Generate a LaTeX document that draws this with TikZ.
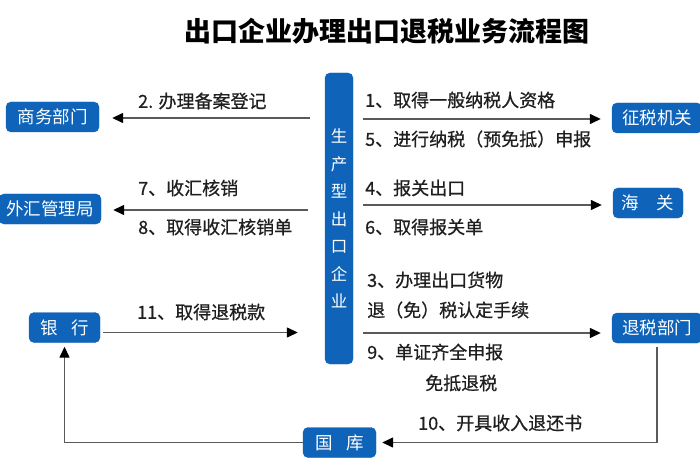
\documentclass[tikz,border=0pt]{standalone}
\usepackage{fontspec}
\setmainfont{Noto Sans CJK SC}
\newfontfamily\lblfont{Noto Sans CJK SC}[FakeBold=0.7]
\usetikzlibrary{arrows.meta}
\definecolor{boxblue}{HTML}{0F63B8}
\definecolor{linegray}{HTML}{5A5A5A}
\begin{document}
\begin{tikzpicture}[x=1pt,y=-1pt,
  dept/.style={fill=boxblue,draw=boxblue,rounded corners=5pt,text=white,
    font=\fontsize{17.5}{18}\selectfont,inner sep=0pt,minimum height=30pt,anchor=center},
  lbl/.style={anchor=west,inner sep=0pt,font=\lblfont\fontsize{18}{19}\selectfont,text=black!88},
  conn/.style={draw=linegray,line width=1.4pt,-{Triangle[length=11pt,width=10pt,color=black]}},
  plain/.style={draw=linegray,line width=1.4pt}]
\useasboundingbox (0,0) rectangle (700,470);
\node[font=\fontsize{27}{30}\selectfont\bfseries] (title) at (387,31) {出口企业办理出口退税业务流程图};
\node[fill=boxblue,draw=boxblue,rounded corners=5pt,minimum width=28pt,minimum height=291pt,
  inner sep=0pt,text=white,align=center,font=\fontsize{16.5}{27.5}\selectfont] (c) at (339,218.5)
  {生\\产\\型\\出\\口\\企\\业};
\node[dept,minimum width=93pt] (sw) at (52.5,117) {商务部门};
\node[dept,minimum width=102pt] (wh) at (50,209) {外汇管理局};
\node[dept,minimum width=90pt] (zs) at (657,118) {征税机关};
\node[dept,minimum width=70pt] (hg) at (648,203) {海\hspace{1em}关};
\node[dept,minimum width=71pt] (yh) at (64.5,327.5) {银\hspace{0.8em}行};
\node[dept,minimum width=90pt] (ts) at (657,328) {退税部门};
\node[dept,minimum width=73pt] (gk) at (339.5,442.5) {国\hspace{0.8em}库};
% arrows
\draw[conn,shorten <=15pt,shorten >=13pt] ([yshift=-1pt]sw.east -| c.west) -- ([yshift=-1pt]sw.east);
\draw[conn,shorten <=17pt,shorten >=12pt] ([yshift=-1pt]wh.east -| c.west) -- ([yshift=-1pt]wh.east);
\draw[conn,shorten <=10pt,shorten >=11pt] ([yshift=-1pt]zs.west -| c.east) -- ([yshift=-1pt]zs.west);
\draw[conn,shorten <=10pt,shorten >=11pt] ([yshift=-2pt]hg.west -| c.east) -- ([yshift=-2pt]hg.west);
\draw[conn,shorten <=3pt,shorten >=27pt] ([yshift=-5pt]yh.east) -- ([yshift=-5pt]yh.east -| c.west);
\draw[conn,shorten <=10pt,shorten >=11pt] ([yshift=-5pt]ts.west -| c.east) -- ([yshift=-5pt]ts.west);
\draw[conn,shorten <=4pt,shorten >=6pt] (ts.south) -- (ts.south |- gk.east) -- (gk.east);
\draw[conn,shorten >=4pt] (gk.west) -- (gk.west -| yh.south) -- (yh.south);
% labels
\node[lbl] (l2) at (138,101) {2. 办理备案登记};
\node[lbl] (l7) at (138,188) {7、收汇核销};
\node[lbl] (l8) at (138,227) {8、取得收汇核销单};
\node[lbl] (l1) at (365,100) {1、取得一般纳税人资格};
\node[lbl] (l5) at (365,139) {5、进行纳税（预免抵）申报};
\node[lbl] (l4) at (365,188) {4、报关出口};
\node[lbl] (l6) at (365,227) {6、取得报关单};
\node[lbl] (l11) at (137,312) {11、取得退税款};
\node[lbl] (l3) at (367,280) {3、办理出口货物};
\node[lbl] (l3b) at (367,310) {退（免）税认定手续};
\node[lbl] (l9) at (367,352) {9、单证齐全申报};
\node[lbl] (l9b) at (425,383) {免抵退税};
\node[lbl] (l10) at (418,423) {10、开具收入退还书};
\end{tikzpicture}
\end{document}
